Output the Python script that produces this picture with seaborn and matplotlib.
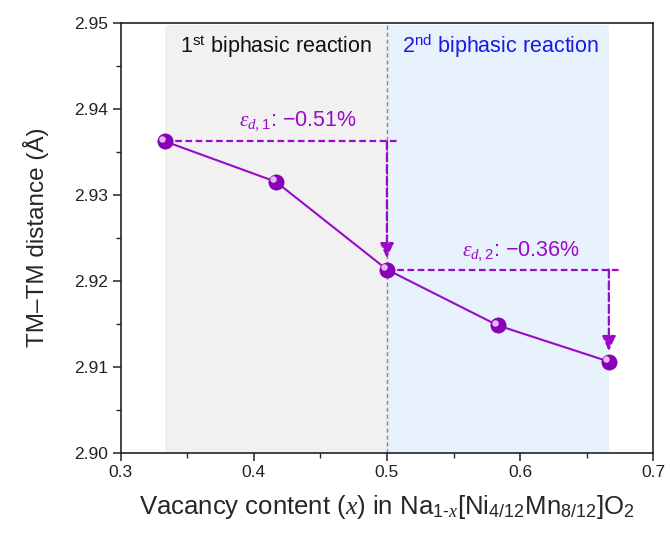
import matplotlib
matplotlib.use("Agg")
import matplotlib.pyplot as plt
import matplotlib.transforms as mtransforms
import seaborn as sns
import pandas as pd
import numpy as np

# ---- data ----
vacancy = [4/12, 5/12, 6/12, 7/12, 8/12]
tm_dist = [2.9362, 2.9315, 2.9213, 2.9148, 2.9106]
region_labels = [r"1$^{\mathrm{st}}$ biphasic reaction", r"2$^{\mathrm{nd}}$ biphasic reaction"]
strain_labels = [r"$\varepsilon_{d,1}$: −0.51%", r"$\varepsilon_{d,2}$: −0.36%"]
xticks = [0.3, 0.4, 0.5, 0.6, 0.7]
yticks = [2.90, 2.91, 2.92, 2.93, 2.94, 2.95]

sns.set_style("ticks")
plt.rcParams['font.family'] = ['Liberation Sans', 'DejaVu Sans']
plt.rcParams['mathtext.fontset'] = 'custom'
plt.rcParams['mathtext.rm'] = 'Liberation Sans'
plt.rcParams['mathtext.it'] = 'Liberation Serif:italic'
plt.rcParams['mathtext.bf'] = 'Liberation Sans:bold'

purple = "#9A0AC8"
fig = plt.figure(figsize=(6.7, 5.39), dpi=100)
ax = fig.add_axes([0.180, 0.160, 0.795, 0.798])

ax.set_xlim(0.3, 0.7)
ax.set_ylim(2.90, 2.95)

# shaded regions
ax.axvspan(vacancy[0], vacancy[2], ymin=0, ymax=0.995, color="#F1F1F1", lw=0, zorder=0)
ax.axvspan(vacancy[2], vacancy[4], ymin=0, ymax=0.995, color="#E7F2FD", lw=0, zorder=0)
ax.axvline(vacancy[2], color="#888888", ls=(0, (3, 2)), lw=1.0, zorder=1)

df = pd.DataFrame({"x": vacancy, "y": tm_dist})
sns.lineplot(data=df, x="x", y="y", ax=ax, color=purple, lw=1.5, zorder=3)

# dashed annotations
dash = (0, (3, 1.6))
arrow = dict(arrowstyle="-|>,head_length=0.9,head_width=0.4", color=purple,
             lw=1.6, ls="--", shrinkA=0, shrinkB=0)
ax.plot([vacancy[0], vacancy[2] + 0.0075], [tm_dist[0], tm_dist[0]], color=purple, ls=dash, lw=1.6, zorder=2)
ax.annotate("", xy=(vacancy[2], tm_dist[2] + 0.0013), xytext=(vacancy[2], tm_dist[0]),
            arrowprops=arrow, zorder=2)
ax.plot([vacancy[2], vacancy[4] + 0.0085], [tm_dist[2], tm_dist[2]], color=purple, ls=dash, lw=1.6, zorder=2)
ax.annotate("", xy=(vacancy[4], tm_dist[4] + 0.0012), xytext=(vacancy[4], tm_dist[2]),
            arrowprops=arrow, zorder=2)

# sphere-like markers
sns.scatterplot(data=df, x="x", y="y", ax=ax, color="#8A00B8", s=120, edgecolor="#7A00A8",
                linewidth=0.5, zorder=5, legend=False)
hl = mtransforms.offset_copy(ax.transData, fig=fig, x=-1.8, y=1.8, units='points')
ax.scatter(vacancy, tm_dist, s=22, color="#E8B8F5", lw=0, zorder=6, transform=hl)

ax.text(0.4330, 2.9372, strain_labels[0], color=purple, fontsize=15.5, ha="center", va="bottom")
ax.text(0.6005, 2.9221, strain_labels[1], color=purple, fontsize=15.5, ha="center", va="bottom")
ax.text(0.4165, 2.9472, region_labels[0], color="#111111", fontsize=15.5, ha="center", va="center")
ax.text(0.5855, 2.9472, region_labels[1], color="#1A1AE0", fontsize=15.5, ha="center", va="center")

ax.set_xticks(xticks)
ax.set_yticks(yticks)
ax.set_xticklabels([f"{t:.1f}" for t in xticks])
ax.set_yticklabels([f"{t:.2f}" for t in yticks])
ax.set_xticks([0.35, 0.45, 0.55, 0.65], minor=True)
ax.set_yticks([2.905, 2.915, 2.925, 2.935, 2.945], minor=True)
ax.tick_params(which="major", direction="out", length=6, width=1.1, labelsize=12.5,
               colors="#222222", pad=3)
ax.tick_params(which="minor", direction="out", length=3.5, width=1.0)
for s in ax.spines.values():
    s.set_linewidth(1.2)
    s.set_color("#222222")

ax.set_xlabel(r"Vacancy content ($x$) in Na$_{\mathrm{1\text{-}}x}$[Ni$_{4/12}$Mn$_{8/12}$]O$_{2}$",
              fontsize=18.5, labelpad=9)
ax.set_ylabel("TM–TM distance (Å)", fontsize=17.5, labelpad=18)

fig.savefig("out.png", dpi=100)
